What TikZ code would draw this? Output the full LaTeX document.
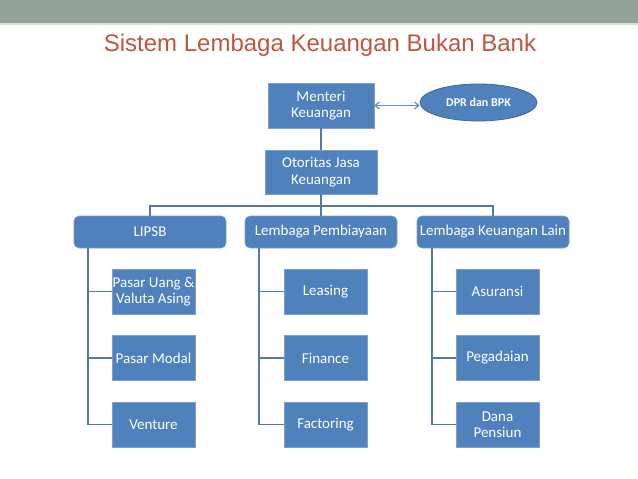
\documentclass[tikz,border=0pt]{standalone}
\usepackage{fontspec}
\setmainfont{Carlito}
\newfontfamily\titlefont{Liberation Sans}
\usetikzlibrary{shapes.geometric,arrows.meta}
\definecolor{boxblue}{HTML}{4F81BD}
\definecolor{boxline}{HTML}{7F9FCC}
\definecolor{ellline}{HTML}{3F6699}
\definecolor{connline}{HTML}{56779F}
\definecolor{arrowblue}{HTML}{6A8FC4}
\definecolor{bandgreen}{HTML}{93A39A}
\definecolor{bandlight}{HTML}{D9DFDB}
\definecolor{titlered}{HTML}{BE5642}
\begin{document}
\begin{tikzpicture}[x=1pt,y=-1pt,
  box/.style={draw=boxline, line width=0.6pt, fill=boxblue, text=white,
    font=\fontsize{15}{16.5}\selectfont, align=center, inner sep=0pt},
  midbox/.style={box, rounded corners=5pt, minimum width=152pt, minimum height=32pt},
  childbox/.style={box, minimum width=83pt, minimum height=45pt},
  conn/.style={draw=connline, line width=1.8pt},
  arr/.style={draw=arrowblue, line width=1.3pt, {Straight Barb[length=4pt,width=7pt]}-{Straight Barb[length=4pt,width=7pt]}}
]
\useasboundingbox (0,0) rectangle (638,479);
\fill[white] (0,0) rectangle (638,479);
\fill[bandgreen] (0,0) rectangle (638,23);
\fill[bandlight] (0,23) rectangle (638,25);

\node[anchor=base, inner sep=0pt, text=titlered, font=\titlefont\fontsize{24}{28}\selectfont] (title) at (320,52) {Sistem Lembaga Keuangan Bukan Bank};

% top
\node[box, minimum width=106pt, minimum height=45pt] (men) at (321,105.5) {Menteri\\Keuangan};
\node[ellipse, draw=ellline, line width=0.8pt, fill=boxblue, text=white, inner sep=0pt,
  minimum width=117pt, minimum height=37pt, font=\bfseries\fontsize{12}{14}\selectfont] (dpr) at (478.5,102.5) {DPR dan BPK};
\node[box, minimum width=112pt, minimum height=44pt] (oto) at (321,172) {Otoritas Jasa\\Keuangan};

% second row
\node[midbox] (lipsb) at (150,232) {LIPSB};
\node[midbox] (lp) at (321,232) {Lembaga Pembiayaan};
\node[midbox] (lkl) at (493,232) {Lembaga Keuangan Lain};

% children
\node[childbox] (pu) at (153.5,291.5) {Pasar Uang \&\\Valuta Asing};
\node[childbox] (pm) at (153.5,358) {Pasar Modal};
\node[childbox] (ve) at (153.5,424.5) {Venture};

\node[childbox] (le) at (325.5,291.5) {Leasing};
\node[childbox] (fi) at (325.5,358) {Finance};
\node[childbox] (fa) at (325.5,424.5) {Factoring};

\node[childbox] (as) at (497.5,291.5) {Asuransi};
\node[childbox] (pe) at (497.5,358) {Pegadaian};
\node[childbox] (dp) at (497.5,424.5) {Dana\\Pensiun};

% connectors
\coordinate (bus) at (0,206);
\draw[arr] (men.east) -- (men.east -| dpr.west);
\draw[conn] (men.south) -- (oto.north);
\draw[conn] (oto.south) -- (lp.north);
\draw[conn] (lipsb.north) -- (lipsb.north |- bus) -- (lkl.north |- bus) -- (lkl.north);

\coordinate (ta) at ([xshift=14pt]lipsb.south west);
\coordinate (tb) at ([xshift=14pt]lp.south west);
\coordinate (tc) at ([xshift=15pt]lkl.south west);

\draw[conn] (ta) |- (ve.west);
\draw[conn] (ta |- pu.west) -- (pu.west);
\draw[conn] (ta |- pm.west) -- (pm.west);

\draw[conn] (tb) |- (fa.west);
\draw[conn] (tb |- le.west) -- (le.west);
\draw[conn] (tb |- fi.west) -- (fi.west);

\draw[conn] (tc) |- (dp.west);
\draw[conn] (tc |- as.west) -- (as.west);
\draw[conn] (tc |- pe.west) -- (pe.west);
\end{tikzpicture}
\end{document}
